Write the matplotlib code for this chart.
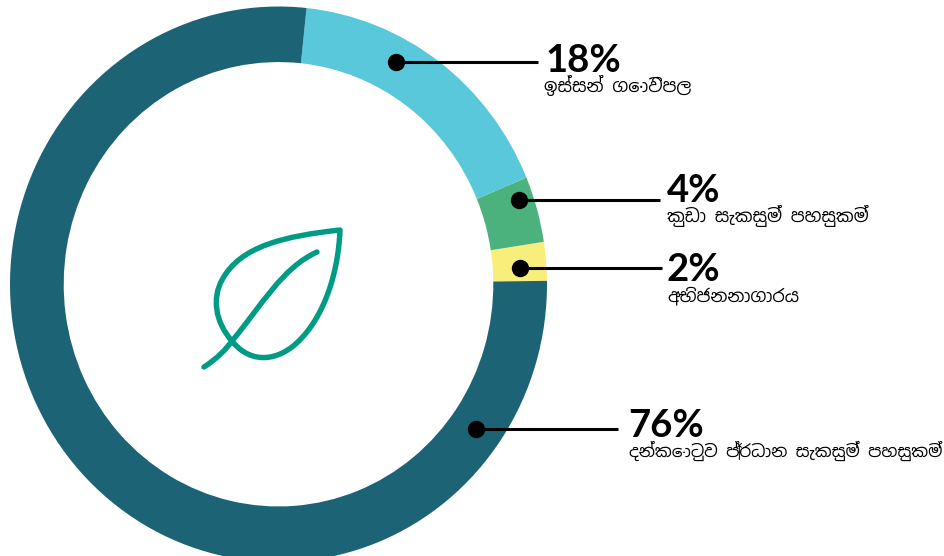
import numpy as np
import matplotlib
matplotlib.use('Agg')
import matplotlib.pyplot as plt
from matplotlib.path import Path
from matplotlib.patches import PathPatch

# ring slices, counter clockwise from the right side, shares as measured on the picture
slice_shares = [2.25, 3.83, 17.06, 76.86]
slice_colors = ['#f7ee7b', '#4bb27d', '#58c8da', '#1b6375']

# labels, top to bottom
pct_labels = ['18%', '4%', '2%', '76%']
names = ['ඉස්සන් ගොවිපල', 'කුඩා සැකසුම් පහසුකම්', 'අභිජනනාගාරය', 'දන්කොටුව ප්‍රධාන සැකසුම් පහසුකම්']
dots_x = [396, 519, 520, 476]
dots_y = [62, 200, 268, 429]
line_end = [538, 660, 662, 618]
pct_x = [545, 667, 667, 628]
pct_base = [72, 202, 281, 437]
name_x = [544, 667, 667, 629]
name_base = [92, 222, 301, 457]
name_size = [12.7, 12.7, 12.7, 12.1]

W, H = 944, 556
fig = plt.figure(figsize=(W / 100, H / 100), dpi=100)

# the ring is a bit taller than wide in the original, so no equal aspect here
ring_ax = fig.add_axes([10 / W, 1 - 562 / H, 537 / W, 555.5 / H])
ring_ax.pie(slice_shares, colors=slice_colors, startangle=0.7, radius=1,
            wedgeprops=dict(width=0.2, linewidth=0))
ring_ax.set_aspect('auto')
ring_ax.set_xlim(-1, 1)
ring_ax.set_ylim(-1, 1)
ring_ax.axis('off')

# overlay in picture pixels
ax = fig.add_axes([0, 0, 1, 1])
ax.set_xlim(0, W)
ax.set_ylim(H, 0)
ax.axis('off')

for i in range(len(pct_labels)):
    ax.plot([dots_x[i], line_end[i]], [dots_y[i], dots_y[i]], color='black', lw=2.2, solid_capstyle='butt')
    ax.plot(dots_x[i], dots_y[i], 'o', color='black', ms=12.5, mew=0)
    ax.text(pct_x[i], pct_base[i], pct_labels[i], family='Lato', weight='bold', fontsize=27.5,
            color='black', ha='left', va='baseline')
    ax.text(name_x[i], name_base[i], names[i], family=['Noto Sans Sinhala', 'DejaVu Sans'], fontsize=name_size[i],
            color='black', ha='left', va='baseline')

# leaf icon
leaf_color = '#009b85'
outline = Path([(204, 367), (218, 358), (226, 349), (232, 341),
                (215, 322), (212, 298), (222, 280), (240, 246), (285, 236), (340, 230),
                (338, 280), (320, 325), (292, 347), (268, 365), (245, 358), (232, 341)],
               [Path.MOVETO, Path.CURVE4, Path.CURVE4, Path.CURVE4,
                Path.CURVE4, Path.CURVE4, Path.CURVE4, Path.CURVE4, Path.CURVE4, Path.CURVE4,
                Path.CURVE4, Path.CURVE4, Path.CURVE4, Path.CURVE4, Path.CURVE4, Path.CURVE4])
vein = Path([(232, 341), (262, 305), (282, 268), (317, 252)],
            [Path.MOVETO, Path.CURVE4, Path.CURVE4, Path.CURVE4])
for p in (outline, vein):
    ax.add_patch(PathPatch(p, fill=False, edgecolor=leaf_color, lw=3.9, capstyle='round', joinstyle='round'))

fig.savefig('out.png', dpi=100)
